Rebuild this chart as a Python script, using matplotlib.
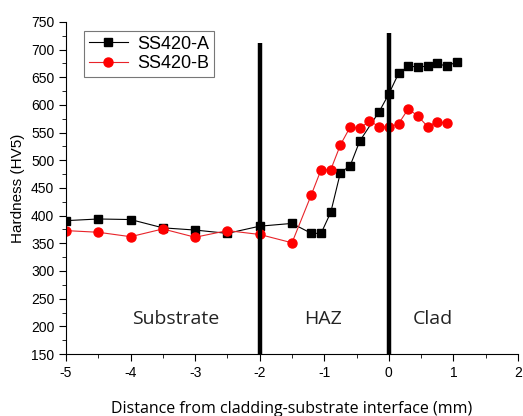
import numpy as np
import matplotlib
matplotlib.use("Agg")
import matplotlib.pyplot as plt
from matplotlib.ticker import MultipleLocator

plt.rcParams["axes.unicode_minus"] = False

# hardness profile data
x_a = [-5.0, -4.5, -4.0, -3.5, -3.0, -2.5, -2.0, -1.5, -1.2, -1.05, -0.9, -0.75, -0.6, -0.45,
       -0.15, 0.0, 0.15, 0.3, 0.45, 0.6, 0.75, 0.9, 1.05]
hv_a = [391, 394, 393, 378, 374, 368, 381, 386, 368, 368, 406, 478, 490, 535,
        588, 620, 657, 670, 669, 670, 675, 670, 678]

x_b = [-5.0, -4.5, -4.0, -3.5, -3.0, -2.5, -2.0, -1.5, -1.2, -1.05, -0.9, -0.75, -0.6, -0.45,
       -0.3, -0.15, 0.0, 0.15, 0.3, 0.45, 0.6, 0.75, 0.9]
hv_b = [373, 370, 362, 376, 361, 373, 366, 351, 438, 483, 483, 528, 560, 558,
        571, 561, 560, 566, 593, 580, 561, 570, 567]

series_names = ["SS420-A", "SS420-B"]
zone_names = ["Substrate", "HAZ", "Clad"]
zone_x = [-3.3, -1.02, 0.68]
boundary_x = [-2.0, 0.0]
boundary_top = [712, 730]

fig = plt.figure(figsize=(5.23, 4.16), dpi=100)
ax = fig.add_axes([66 / 523, 1 - 354 / 416, 452 / 523, 332 / 416])

ax.plot(x_a, hv_a, color="black", lw=0.8, marker="s", ms=5.5, label=series_names[0])
ax.plot(x_b, hv_b, color="#e8242a", lw=0.8, marker="o", ms=6.5,
        mfc="red", mec="red", label=series_names[1])

for bx, top in zip(boundary_x, boundary_top):
    ax.plot([bx, bx], [150, top], color="black", lw=3.2, solid_capstyle="butt")

for name, zx in zip(zone_names, zone_x):
    ax.text(zx, 214, name, ha="center", va="center", fontsize=14,
            family=["Open Sans", "DejaVu Sans"], color="#222222")

ax.set_xlim(-5, 2)
ax.set_ylim(150, 750)
ax.xaxis.set_major_locator(MultipleLocator(1))
ax.xaxis.set_minor_locator(MultipleLocator(0.5))
ax.yaxis.set_major_locator(MultipleLocator(50))
ax.yaxis.set_minor_locator(MultipleLocator(25))
ax.tick_params(which="both", direction="out", labelsize=10)
ax.tick_params(which="major", length=5)
ax.tick_params(which="minor", length=3)
for lab in ax.get_xticklabels() + ax.get_yticklabels():
    lab.set_family("Liberation Sans")

ax.spines["top"].set_visible(False)
ax.spines["right"].set_visible(False)

ax.set_ylabel("Hardness (HV5)", fontsize=11, family="Liberation Sans", labelpad=4)
ax.set_xlabel("Distance from cladding-substrate interface (mm)", fontsize=11.5,
              family=["Open Sans", "DejaVu Sans"], labelpad=15)

leg = ax.legend(loc="upper left", bbox_to_anchor=(0.02, 1.0), frameon=True,
                fancybox=False, edgecolor="#555555", prop={"family": "Liberation Sans", "size": 13},
                handlelength=2.2, borderpad=0.25, labelspacing=0.15, handletextpad=0.5)
leg.get_frame().set_linewidth(0.8)

fig.savefig("out.png", dpi=100)
